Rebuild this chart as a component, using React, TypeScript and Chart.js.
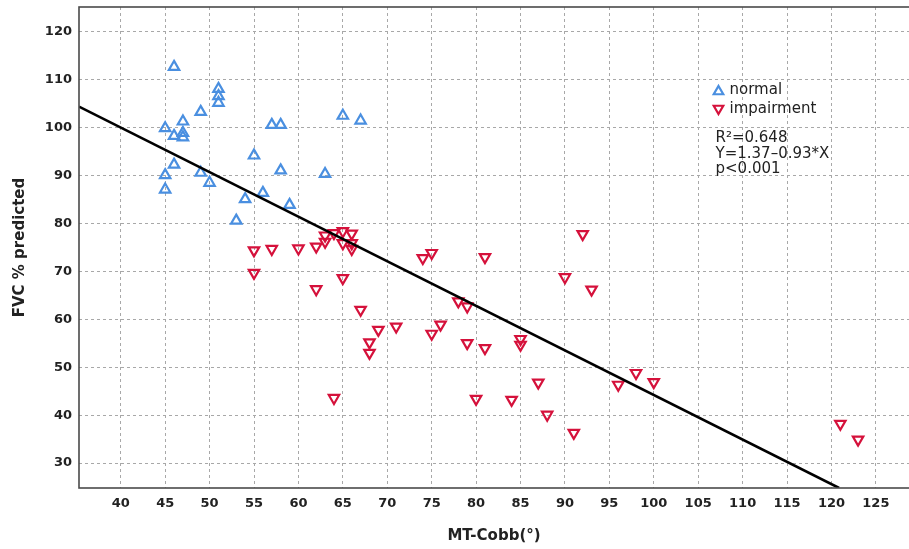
import React, { useEffect, useRef } from "react";
import { Chart, registerables } from "chart.js";

Chart.register(...registerables);

// ---- data ----
const normalX = [46, 51, 51, 51, 49, 47, 45, 46, 47, 47, 57, 58, 65, 67, 55, 45, 46, 49, 50, 58, 63, 45, 56, 54, 59, 53];
const normalY = [112.7, 108.1, 106.6, 105.2, 103.3, 101.3, 99.9, 98.3, 98.9, 98.0, 100.6, 100.6, 102.5, 101.5, 94.2, 90.1, 92.3, 90.6, 88.5, 91.1, 90.35, 87.1, 86.4, 85.1, 83.9, 80.6];

const impairX = [55, 55, 57, 60, 62, 62, 63, 63, 64, 65, 65, 66, 66, 66, 65, 64, 67, 69, 71, 68, 68, 74, 75, 75, 76, 78, 79, 79, 80, 81, 81, 85, 85, 84, 87, 88, 91, 92, 90, 93, 96, 98, 100, 121, 123];
const impairY = [74.4, 69.7, 74.7, 74.8, 75.2, 66.3, 77.5, 76.2, 78.0, 78.4, 75.9, 77.9, 75.9, 74.7, 68.6, 43.6, 62.0, 57.8, 58.5, 55.2, 53.0, 72.8, 73.85, 57.0, 58.9, 63.75, 62.7, 55.05, 43.4, 73.0, 54.0, 55.9, 54.7, 43.2, 46.8, 40.1, 36.3, 77.8, 68.8, 66.2, 46.35, 48.8, 46.9, 38.2, 34.9];

// regression line endpoints (clipped to the plot frame)
const fitX = [35.3, 120.86];
const fitY = [104.4, 24.8];

const xTicks = [40, 45, 50, 55, 60, 65, 70, 75, 80, 85, 90, 95, 100, 105, 110, 115, 120, 125];
const yTicks = [30, 40, 50, 60, 70, 80, 90, 100, 110, 120];

const seriesLabels = ["normal", "impairment"];
const statLines = ["R²=0.648", "Y=1.37–0.93*X", "p<0.001"];
const xTitle = "MT-Cobb(°)";
const yTitle = "FVC % predicted";

const BLUE = "#4a8fe0";
const RED = "#d5113b";
const TEXT = "#222222";
const GRID = "#a8a8a8";

function triangle(ctx: CanvasRenderingContext2D, x: number, y: number, r: number, down: boolean, color: string) {
  const s = down ? -1 : 1;
  ctx.beginPath();
  ctx.moveTo(x, y - s * r);
  ctx.lineTo(x + r * Math.sin((2 * Math.PI) / 3), y + s * r / 2);
  ctx.lineTo(x - r * Math.sin((2 * Math.PI) / 3), y + s * r / 2);
  ctx.closePath();
  ctx.strokeStyle = color;
  ctx.lineWidth = 2.2;
  ctx.stroke();
}

const overlay = {
  id: "overlay",
  afterDraw(chart: any) {
    const ctx: CanvasRenderingContext2D = chart.ctx;
    const a = chart.chartArea;
    ctx.save();
    ctx.strokeStyle = "#4a4a4a";
    ctx.lineWidth = 1.6;
    ctx.strokeRect(a.left, a.top, a.right - a.left + 4, a.bottom - a.top);

    // legend
    ctx.font = "15px 'DejaVu Sans'";
    ctx.fillStyle = TEXT;
    ctx.textBaseline = "middle";
    ctx.textAlign = "left";
    const colors = [BLUE, RED];
    const ys = [90.5, 109.5];
    seriesLabels.forEach((lab, i) => {
      triangle(ctx, 718.5, ys[i] + (i === 0 ? 1 : -1), 5.5, i === 1, colors[i]);
      ctx.fillText(lab, 729.5, ys[i]);
    });
    // stats
    const sy = [138.5, 153.7, 168.9];
    statLines.forEach((t, i) => ctx.fillText(t, 715.5, sy[i]));
    ctx.restore();
  },
};

export default function App() {
  const ref = useRef<HTMLCanvasElement | null>(null);
  useEffect(() => {
    if (!ref.current) return;
    const tickFont = { family: "'DejaVu Sans'", weight: "bold" as const, size: 13 };
    const titleFont = { family: "'DejaVu Sans'", weight: "bold" as const, size: 15 };
    const chart = new Chart(ref.current, {
      type: "scatter",
      data: {
        datasets: [
          {
            label: "fit",
            data: fitX.map((x, i) => ({ x, y: fitY[i] })),
            showLine: true,
            borderColor: "#000000",
            borderWidth: 2.6,
            pointRadius: 0,
            order: 0,
          } as any,
          {
            label: seriesLabels[0],
            data: normalX.map((x, i) => ({ x, y: normalY[i] })),
            pointStyle: "triangle",
            pointRadius: 6,
            pointBorderWidth: 2.2,
            borderColor: BLUE,
            backgroundColor: "rgba(255,255,255,0)",
            order: 1,
          },
          {
            label: seriesLabels[1],
            data: impairX.map((x, i) => ({ x, y: impairY[i] })),
            pointStyle: "triangle",
            rotation: 180,
            pointRadius: 6,
            pointBorderWidth: 2.2,
            borderColor: RED,
            backgroundColor: "rgba(255,255,255,0)",
            order: 1,
          } as any,
        ],
      },
      options: {
        animation: false,
        responsive: false,
        layout: { autoPadding: false, padding: { top: 7, left: 0, right: 0, bottom: 0 } },
        plugins: { legend: { display: false }, tooltip: { enabled: false } },
        scales: {
          x: {
            type: "linear",
            min: 35.3,
            max: 128.73,
            afterBuildTicks: (s: any) => {
              s.ticks = xTicks.map((v) => ({ value: v }));
            },
            afterFit: (s: any) => {
              s.height = 61;
              s.paddingLeft = 0;
              s.paddingRight = 0;
            },
            ticks: { font: tickFont, color: TEXT, padding: 8, autoSkip: false, maxRotation: 0, callback: (v: any) => String(v) },
            grid: { color: GRID, lineWidth: 1, drawTicks: false },
            border: { display: false, dash: [3, 3] },
            title: { display: true, text: xTitle, font: titleFont, color: TEXT, padding: { top: 0, bottom: 3.5 } },
          },
          y: {
            type: "linear",
            min: 24.8,
            max: 125.2,
            afterBuildTicks: (s: any) => {
              s.ticks = yTicks.map((v) => ({ value: v }));
            },
            afterFit: (s: any) => {
              s.width = 79;
              s.paddingTop = 0;
              s.paddingBottom = 0;
            },
            ticks: { font: tickFont, color: TEXT, padding: 7, autoSkip: false, callback: (v: any) => String(v) },
            grid: { color: GRID, lineWidth: 1, drawTicks: false },
            border: { display: false, dash: [3, 3] },
            title: { display: true, text: yTitle, font: titleFont, color: TEXT, padding: { top: 11, bottom: 0 } },
          },
        },
      } as any,
      plugins: [overlay],
    });
    return () => chart.destroy();
  }, []);
  return (
    <canvas
      ref={ref}
      width={909}
      height={549}
      style={{ position: "absolute", left: 0, top: 0, width: 909, height: 549, display: "block" }}
    />
  );
}
